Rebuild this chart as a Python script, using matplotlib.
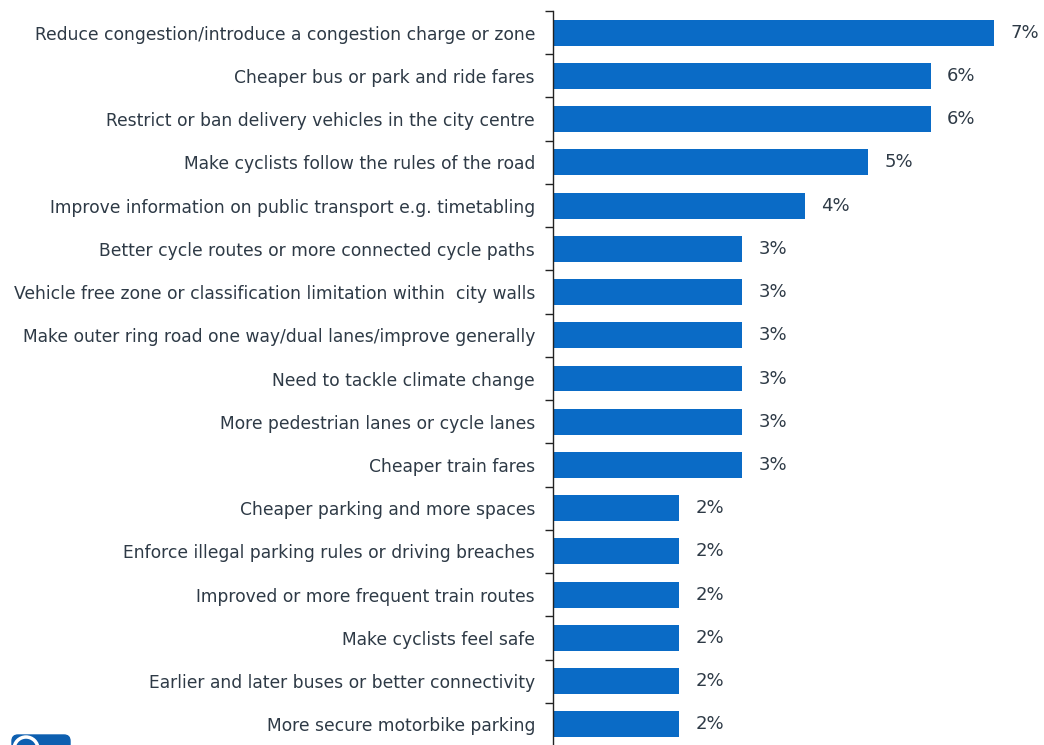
import matplotlib
matplotlib.use("Agg")
import matplotlib.pyplot as plt
from matplotlib.patches import FancyBboxPatch, Circle

categories = [
    "Reduce congestion/introduce a congestion charge or zone",
    "Cheaper bus or park and ride fares",
    "Restrict or ban delivery vehicles in the city centre",
    "Make cyclists follow the rules of the road",
    "Improve information on public transport e.g. timetabling",
    "Better cycle routes or more connected cycle paths",
    "Vehicle free zone or classification limitation within  city walls",
    "Make outer ring road one way/dual lanes/improve generally",
    "Need to tackle climate change",
    "More pedestrian lanes or cycle lanes",
    "Cheaper train fares",
    "Cheaper parking and more spaces",
    "Enforce illegal parking rules or driving breaches",
    "Improved or more frequent train routes",
    "Make cyclists feel safe",
    "Earlier and later buses or better connectivity",
    "More secure motorbike parking",
]
values = [7, 6, 6, 5, 4, 3, 3, 3, 3, 3, 3, 2, 2, 2, 2, 2, 2]

BAR = "#0a6bc6"
TEXT = "#2e3a46"

fig = plt.figure(figsize=(10.44, 7.45), dpi=100)
ax = fig.add_axes([553 / 1044, -1 / 745, (1044 - 553) / 1044, 735 / 745])

n = len(categories)
ypos = list(range(n))
ax.barh(ypos, values, height=0.6, color=BAR)
ax.set_ylim(n - 0.5, -0.5)
ax.set_xlim(0, 7.8)

for y, v in zip(ypos, values):
    ax.text(v + 0.26, y, f"{v}%", va="center", ha="left",
            fontsize=13, color=TEXT, family="DejaVu Sans")

ax.set_yticks(ypos)
ax.set_yticklabels(categories, fontsize=12.3, color=TEXT, family="DejaVu Sans")
ax.tick_params(axis="y", length=0, pad=13)
# tick marks between categories
ax.set_yticks([i - 0.5 for i in range(n + 1)], minor=True)
ax.tick_params(axis="y", which="minor", length=6, width=1, color="#222222", direction="out")
ax.set_xticks([])
for s in ("top", "right", "bottom"):
    ax.spines[s].set_visible(False)
ax.spines["left"].set_color("#222222")
ax.spines["left"].set_linewidth(1)

# small logo in the lower left corner
lax = fig.add_axes([0, 0, 80 / 1044, 14 / 745])
lax.set_xlim(0, 80)
lax.set_ylim(0, 14)
lax.axis("off")
lax.add_patch(FancyBboxPatch((12, -10), 58, 20, boxstyle="round,pad=0,rounding_size=6",
                             color="#0d5fb0"))
lax.add_patch(Circle((26, -4), 12, facecolor="none", edgecolor="white", linewidth=2.5))

fig.savefig("out.png", dpi=100, facecolor="white")
